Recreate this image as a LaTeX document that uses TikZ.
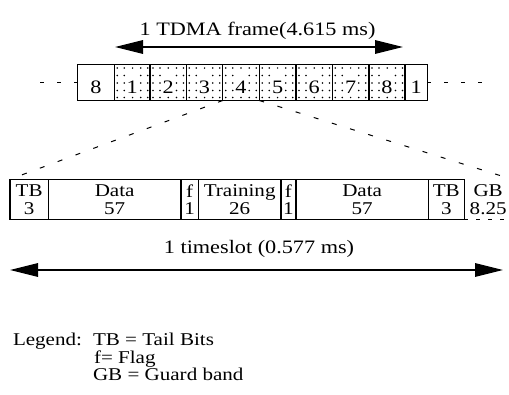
\documentclass[tikz,border=0pt]{standalone}
\usepackage{fontspec}
\setmainfont{Liberation Serif}[FakeStretch=1.17]
\usetikzlibrary{arrows.meta}
\begin{document}
\begin{tikzpicture}[x=1pt,y=-1pt,
  every node/.style={font=\fontsize{19}{16.5}\selectfont, inner sep=0pt, outer sep=0pt},
  slot/.style={draw, line width=1.4pt, rectangle, minimum height=35.8pt},
  cell/.style={draw, line width=1.4pt, rectangle, minimum height=40.5pt, align=center, font=\fontsize{18}{17.5}\selectfont},
  digit/.style={anchor=base},
  txt/.style={anchor=base},
  leg/.style={anchor=base west, font=\fontsize{18}{16}\selectfont},
  leader/.style={line width=1pt, dash pattern=on 4pt off 13pt},
  diag/.style={line width=1pt, dash pattern=on 5pt off 14pt},
  bigtip/.tip={Triangle[length=28pt,width=13.5pt]},
  bigarrow/.style={line width=1.6pt, {bigtip}-{bigtip}},
  dotc/.style={fill=black}
]
\useasboundingbox (0,0) rectangle (509,394);

% stipple of the eight frame slots
\foreach \l in {114.3,150,186.3,222.7,259.3,296,332.3,369} {
  \foreach \dy in {68,75.5,83,90.5,97.5} {
    \foreach \dx in {3,10,26.5,33.5} { \fill[dotc] (\l+\dx,\dy) circle[radius=0.85pt]; }
  }
  \foreach \dy in {68,97.5} { \fill[dotc] (\l+18.3,\dy) circle[radius=0.85pt]; }
}

% TDMA frame slots
\foreach \n/\l/\r/\t in {f0/77.7/114.3/8, f1/114.3/150/1, f2/150/186.3/2, f3/186.3/222.7/3,
  f4/222.7/259.3/4, f5/259.3/296/5, f6/296/332.3/6, f7/332.3/369/7, f8/369/405/8, f9/405/427.3/1} {
  \node[slot, minimum width={(\r-\l)*1pt}] (\n) at ({(\l+\r)/2}, 82.6) {};
  \node[digit] (d\n) at ({(\l+\r)/2}, 93.5) {\t};
}

% leaders
\coordinate (ll) at (38,82.6);
\coordinate (lr) at (484,82.6);
\draw[leader] (f0.west) -- (ll);
\draw[leader] (f9.east) -- (lr);

% frame arrow
\coordinate (a1) at (115,47);
\coordinate (a2) at (403,47);
\draw[bigarrow] (a1) -- (a2);
\node[txt] (ftitle) at (257.5,35) {1 TDMA frame(4.615 ms)};

% timeslot cells
\node[cell, minimum width=38.3pt]  (t1) at (29.15,199.5)  {TB\\3};
\node[cell, minimum width=132.7pt] (t2) at (114.65,199.5) {Data\\57};
\node[cell, minimum width=17.3pt]  (t3) at (189.65,199.5) {f\\1};
\node[cell, minimum width=82.7pt]  (t4) at (239.65,199.5) {Training\\26};
\node[cell, minimum width=15pt]    (t5) at (288.5,199.5)  {f\\1};
\node[cell, minimum width=132.3pt] (t6) at (362.15,199.5) {Data\\57};
\node[cell, minimum width=36pt]    (t7) at (446.3,199.5)  {TB\\3};
\node[cell, draw=none, minimum width=47.7pt] (gb) at (488.15,199.5) {GB\\8.25};
\draw[line width=1pt, dash pattern=on 4pt off 8pt] (gb.south west) -- (gb.south east);

% expansion lines
\draw[diag] (f4.south west) -- (t1.north west);
\draw[diag] (f4.south east) -- (gb.north east);

% timeslot arrow
\coordinate (b1) at (10,270);
\coordinate (b2) at (503,270);
\draw[bigarrow] (b1) -- (b2);
\node[txt] (stitle) at (259,253) {1 timeslot (0.577 ms)};

% legend
\node[leg] (lg)  at (13,345.5) {Legend:};
\node[leg] (lg1) at (93,345.5) {TB = Tail Bits};
\node[leg] (lg2) at (94,363) {f= Flag};
\node[leg] (lg3) at (93,380) {GB = Guard band};
\end{tikzpicture}
\end{document}
